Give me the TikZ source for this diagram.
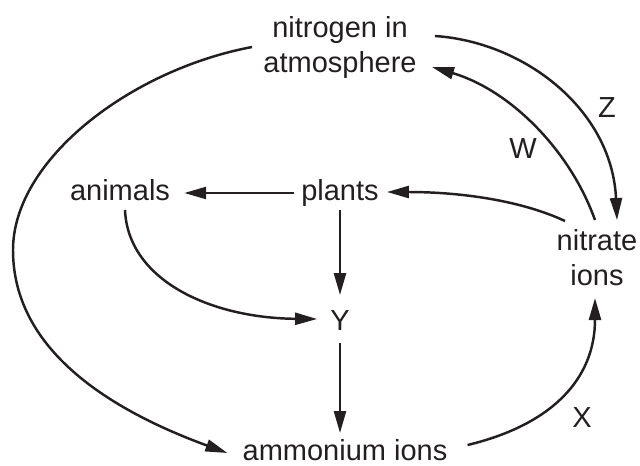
\documentclass[tikz,border=0pt]{standalone}
\usepackage{fontspec}
\setmainfont{Liberation Sans}
\usetikzlibrary{arrows.meta,calc}
\definecolor{ink}{RGB}{35,31,32}
\begin{document}
\begin{tikzpicture}[x=0.75pt,y=-0.75pt,
  lbl/.style={inner sep=0pt, anchor=base, text=ink, font=\fontsize{21.75}{26.25}\selectfont},
  conn/.style={line width=1.85pt, draw=ink, -{Triangle[length=16.5pt,width=9pt]}}]
\useasboundingbox (0,0) rectangle (640,465);
\node[lbl,align=center] (atm) at (340,72) {nitrogen in\\atmosphere};
\node[lbl] (animals) at (120,200) {animals};
\node[lbl] (plants) at (340,200) {plants};
\node[lbl,align=center] (nitrate) at (597,285) {nitrate\\ions};
\node[lbl] (Y) at (340,330) {Y};
\node[lbl] (amm) at (345,460) {ammonium ions};
\node[lbl] (Z) at (607,117) {Z};
\node[lbl] (W) at (523,158) {W};
\node[lbl] (X) at (582,427) {X};
% plants -> animals
\draw[conn] ($(plants.base west)+(-7,-7)$) -- ($(animals.base east)+(14,-7)$);
% plants -> Y
\draw[conn] ($(plants.base)+(0,10)$) -- ($(Y.base)+(0,-35)$);
% Y -> ammonium
\draw[conn] ($(Y.base)+(0,13)$) -- ($(amm.base)+(-5,-27)$);
% animals -> Y
\draw[conn] ($(animals.base)+(5,10)$) .. controls +(3,70) and +(-107,-1) .. ($(Y.base west)+(-13,-11)$);
% nitrogen -> ammonium
\draw[conn] ($(atm.base)+(-88,-25)$) .. controls (130,70) and (13,160) .. (13,250)
  .. controls (13,350) and (110,410) .. ($(amm.base west)+(-15,-7)$);
% Z: nitrogen -> nitrate
\draw[conn] ($(atm.base)+(95,-36)$) .. controls +(90,6) and +(-5,-110) .. ($(nitrate.base)+(20,-65)$);
% W: nitrate -> nitrogen
\draw[conn] ($(nitrate.base)+(-2,-65)$) .. controls +(-25,-70) and +(78,23) .. ($(atm.base)+(92,-5)$);
% nitrate -> plants
\draw[conn] ($(nitrate.base)+(-32,-64)$) .. controls +(-45,-21) and +(72,0) .. ($(plants.base east)+(8,-8)$);
% X: ammonium -> nitrate
\draw[conn] ($(amm.base east)+(20,-15)$) .. controls +(83,-20) and +(0,82) .. ($(nitrate.base)+(-2,13)$);
\end{tikzpicture}
\end{document}
